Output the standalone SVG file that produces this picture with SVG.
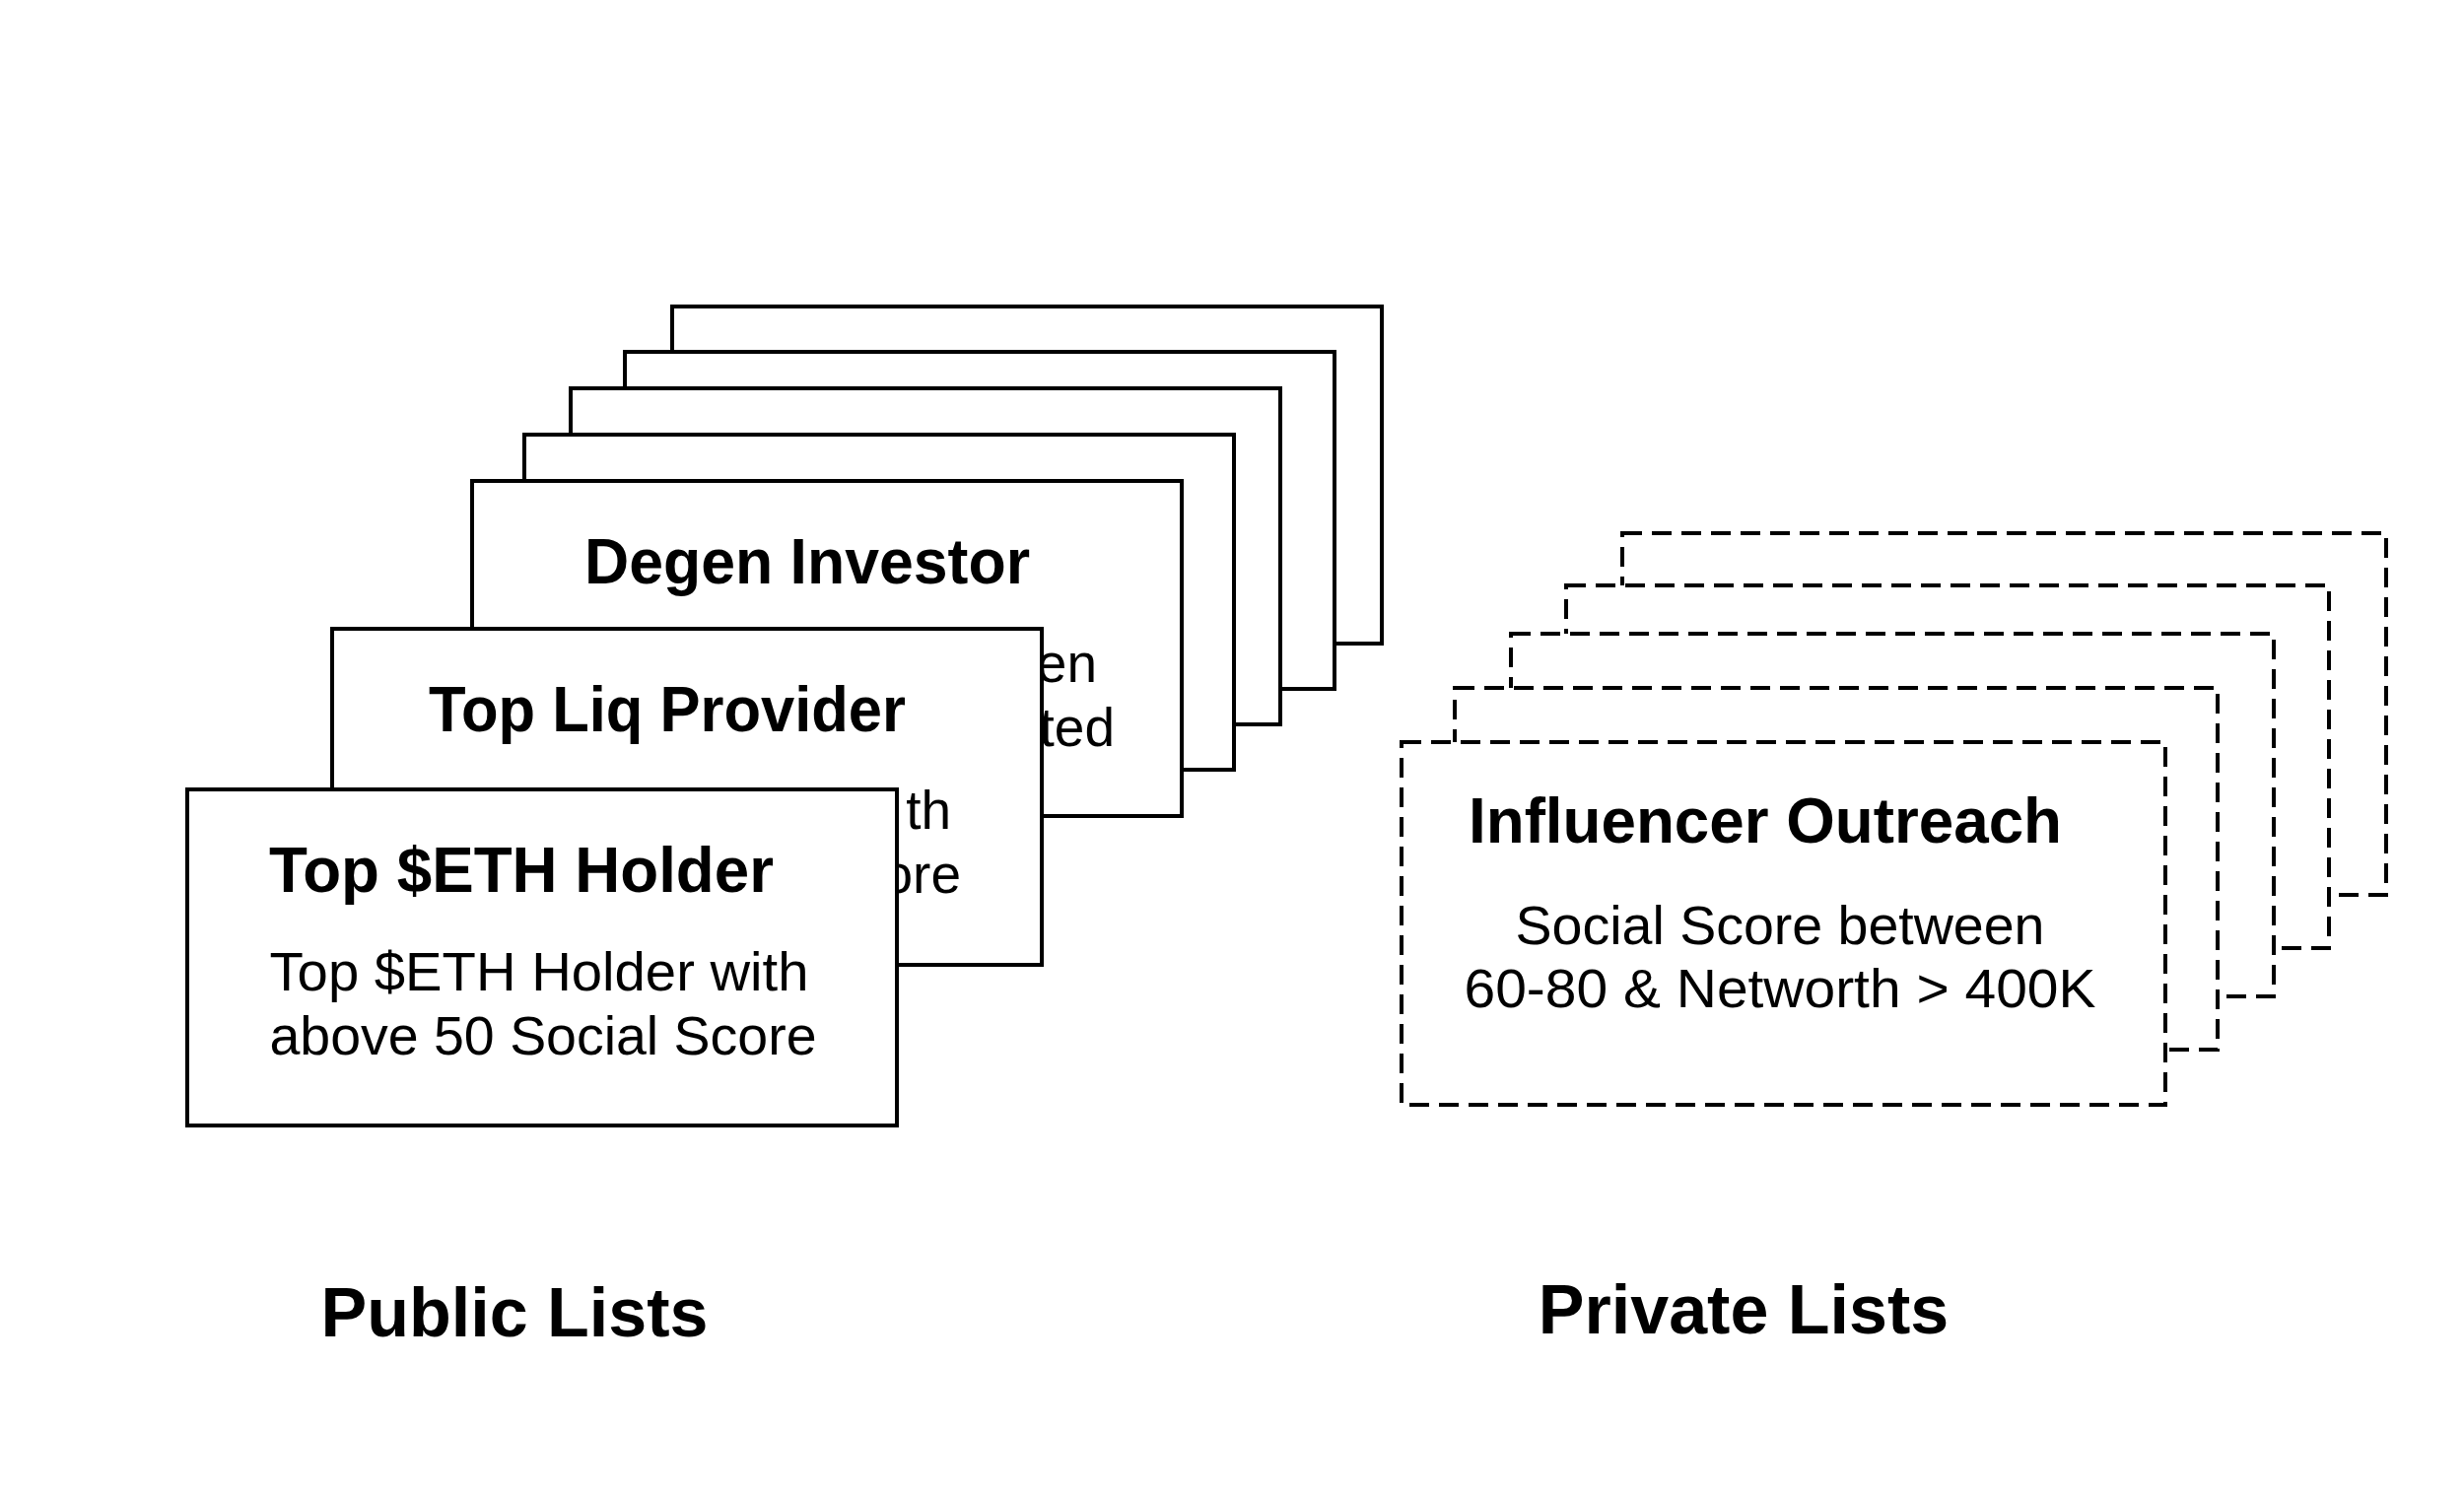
<svg xmlns="http://www.w3.org/2000/svg" width="2500" height="1522" viewBox="0 0 2500 1522">
  <style>
    .card { fill: #ffffff; stroke: #000000; stroke-width: 4; }
    .dash { fill: #ffffff; stroke: #000000; stroke-width: 4; stroke-dasharray: 20 10; }
    .title { font-family: "Liberation Sans", Arial, sans-serif; font-weight: bold; font-size: 64px; fill: #000000; text-anchor: middle; }
    .sub { font-family: "Liberation Sans", Arial, sans-serif; font-size: 55px; fill: #000000; text-anchor: middle; }
    .frag { font-family: "Liberation Sans", Arial, sans-serif; font-size: 55px; fill: #000000; text-anchor: end; }
    .label { font-family: "Liberation Sans", Arial, sans-serif; font-weight: bold; font-size: 70px; fill: #000000; text-anchor: middle; }
  </style>
  <rect x="0" y="0" width="2500" height="1522" fill="#ffffff"/>

  <!-- Public lists stack -->
  <g id="public-card-5"><rect class="card" x="682" y="311" width="720" height="342"/></g>
  <g id="public-card-4"><rect class="card" x="634" y="357" width="720" height="342"/></g>
  <g id="public-card-3"><rect class="card" x="579" y="394" width="720" height="341"/></g>
  <g id="public-card-2"><rect class="card" x="532" y="441" width="720" height="340"/></g>
  <g id="degen-investor">
    <rect class="card" x="479" y="488" width="720" height="340"/>
    <text class="title" x="819" y="592" textLength="452" lengthAdjust="spacingAndGlyphs">Degen Investor</text>
    <text class="frag" x="1113" y="692">en</text>
    <text class="frag" x="1131" y="757">ted</text>
  </g>
  <g id="top-liq-provider">
    <rect class="card" x="337" y="638" width="720" height="341"/>
    <text class="title" x="677" y="742" textLength="484" lengthAdjust="spacingAndGlyphs">Top Liq Provider</text>
    <text class="frag" x="965" y="841">th</text>
    <text class="frag" x="975" y="906">ore</text>
  </g>
  <g id="top-eth-holder">
    <rect class="card" x="190" y="801" width="720" height="341"/>
    <text class="title" x="529" y="905" textLength="512" lengthAdjust="spacingAndGlyphs">Top $ETH Holder</text>
    <text class="sub" x="547" y="1005" textLength="547" lengthAdjust="spacingAndGlyphs">Top $ETH Holder with</text>
    <text class="sub" x="551" y="1070" textLength="555" lengthAdjust="spacingAndGlyphs">above 50 Social Score</text>
  </g>

  <!-- Private lists stack -->
  <g id="private-card-5"><rect class="dash" x="1646" y="541" width="775" height="367"/></g>
  <g id="private-card-4"><rect class="dash" x="1589" y="594" width="774" height="368"/></g>
  <g id="private-card-3"><rect class="dash" x="1533" y="643" width="774" height="368"/></g>
  <g id="private-card-2"><rect class="dash" x="1476" y="698" width="774" height="367"/></g>
  <g id="influencer-outreach">
    <rect class="dash" x="1422" y="753" width="775" height="368"/>
    <text class="title" x="1791" y="855" textLength="602" lengthAdjust="spacingAndGlyphs">Influencer Outreach</text>
    <text class="sub" x="1806" y="958" textLength="537" lengthAdjust="spacingAndGlyphs">Social Score between</text>
    <text class="sub" x="1806" y="1022" textLength="641" lengthAdjust="spacingAndGlyphs">60-80 &amp; Networth &gt; 400K</text>
  </g>

  <!-- Labels -->
  <g id="label-public"><text class="label" x="522" y="1356">Public Lists</text></g>
  <g id="label-private"><text class="label" x="1769" y="1353">Private Lists</text></g>
</svg>
